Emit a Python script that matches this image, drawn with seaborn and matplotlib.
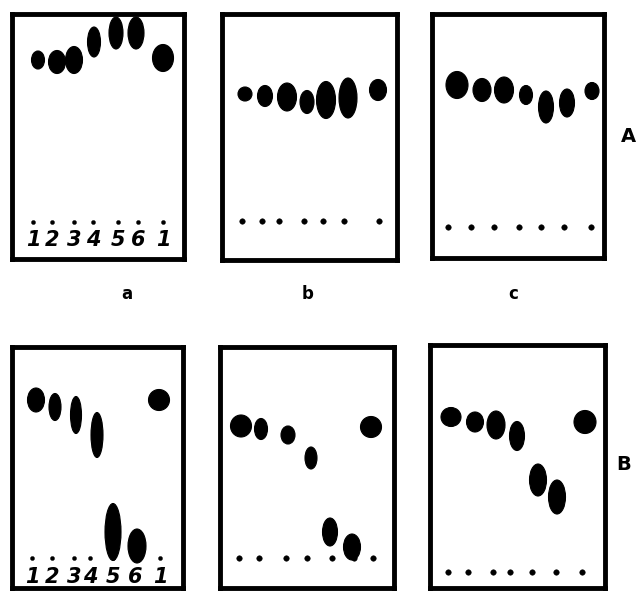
import matplotlib
matplotlib.use("Agg")
import matplotlib.pyplot as plt
from matplotlib.patches import Ellipse
import seaborn as sns
import pandas as pd

sns.set_theme(style="white")
plt.rcParams['font.family'] = ['DejaVu Sans']

W, H = 637, 592

# Plate frames (left, right, top, bottom) in picture pixels
plate_names = ["a_A", "b_A", "c_A", "a_B", "b_B", "c_B"]
frames = {
    "a_A": (12, 184, 14, 259),
    "b_A": (222, 397, 14, 260),
    "c_A": (432, 604, 14, 258),
    "a_B": (12, 183, 347, 588),
    "b_B": (220, 394, 347, 588),
    "c_B": (430, 605, 345, 588),
}

# Spot centres (x, y), widths and heights for lanes 1..6 and reference lane
spot_x = {
    "a_A": [38, 57, 74, 94, 116, 136, 163],
    "b_A": [245, 265, 287, 307, 326, 348, 378],
    "c_A": [457, 482, 504, 526, 546, 567, 592],
    "a_B": [36, 55, 76, 97, 113, 137, 159],
    "b_B": [241, 261, 288, 311, 330, 352, 371],
    "c_B": [451, 475, 496, 517, 538, 557, 585],
}
spot_y = {
    "a_A": [60, 62, 60, 42, 33, 33, 58],
    "b_A": [94, 96, 97, 102, 100, 98, 90],
    "c_A": [85, 90, 90, 95, 107, 103, 91],
    "a_B": [400, 407, 415, 435, 532, 546, 400],
    "b_B": [426, 429, 435, 458, 532, 547, 427],
    "c_B": [417, 422, 425, 436, 480, 497, 422],
}
spot_w = {
    "a_A": [13, 17, 17, 13, 14, 16, 21],
    "b_A": [14, 15, 19, 14, 19, 18, 17],
    "c_A": [22, 18, 19, 13, 15, 15, 14],
    "a_B": [17, 12, 11, 12, 16, 18, 21],
    "b_B": [21, 13, 14, 12, 15, 17, 21],
    "c_B": [20, 17, 18, 15, 17, 17, 22],
}
spot_h = {
    "a_A": [18, 23, 27, 30, 32, 32, 27],
    "b_A": [14, 21, 28, 23, 37, 40, 21],
    "c_A": [27, 23, 26, 19, 32, 28, 17],
    "a_B": [24, 27, 37, 45, 57, 34, 21],
    "b_B": [22, 21, 18, 22, 28, 26, 21],
    "c_B": [19, 20, 28, 29, 32, 34, 23],
}

# Start-line dots
start_x = {
    "a_A": [33, 52, 74, 93, 118, 138, 163],
    "b_A": [242, 262, 279, 304, 323, 344, 379],
    "c_A": [448, 471, 494, 519, 541, 564, 591],
    "a_B": [32, 52, 74, 90, 113, 135, 160],
    "b_B": [239, 259, 286, 307, 332, 354, 373],
    "c_B": [448, 468, 493, 510, 532, 556, 582],
}
start_y = {
    "a_A": 222, "b_A": 221, "c_A": 227,
    "a_B": 558, "b_B": 558, "c_B": 572,
}

lane_labels = ["1", "2", "3", "4", "5", "6", "1"]
label_y = {"a_A": 240, "a_B": 577}

column_labels = ["a", "b", "c"]
column_label_x = [127, 308, 513]
row_labels = ["A", "B"]
row_label_pos = [(628, 137), (624, 465)]

fig = plt.figure(figsize=(W / 100, H / 100), dpi=100)
fig.patch.set_facecolor("white")

for name in plate_names:
    l, r, t, b = frames[name]
    ax = fig.add_axes([l / W, 1 - b / H, (r - l) / W, (b - t) / H])
    ax.set_xlim(l, r)
    ax.set_ylim(b, t)
    ax.set_xticks([])
    ax.set_yticks([])
    ax.set_facecolor("white")
    for sp in ax.spines.values():
        sp.set_visible(True)
        sp.set_color("black")
        sp.set_linewidth(3.5)
    for x, y, w, h in zip(spot_x[name], spot_y[name], spot_w[name], spot_h[name]):
        ax.add_patch(Ellipse((x, y), w, h, facecolor="black", edgecolor="black", lw=0.8))
    small = name.startswith("a_")
    df = pd.DataFrame({"x": start_x[name], "y": [start_y[name]] * len(start_x[name])})
    sns.scatterplot(data=df, x="x", y="y", ax=ax, color="black",
                    s=9 if small else 16, marker="o", edgecolor="black", legend=False)
    ax.set_xlabel("")
    ax.set_ylabel("")
    if name in label_y:
        for x, lab in zip(start_x[name], lane_labels):
            ax.text(x, label_y[name], lab, ha="center", va="center",
                    fontsize=15, style="italic", fontweight="bold", color="black")

for lab, x in zip(column_labels, column_label_x):
    fig.text(x / W, 1 - 294 / H, lab, ha="center", va="center",
             fontsize=12, fontweight="bold", color="black")
for lab, (x, y) in zip(row_labels, row_label_pos):
    fig.text(x / W, 1 - y / H, lab, ha="center", va="center",
             fontsize=14, fontweight="bold", color="black")

fig.savefig("out.png", dpi=100, facecolor="white")
